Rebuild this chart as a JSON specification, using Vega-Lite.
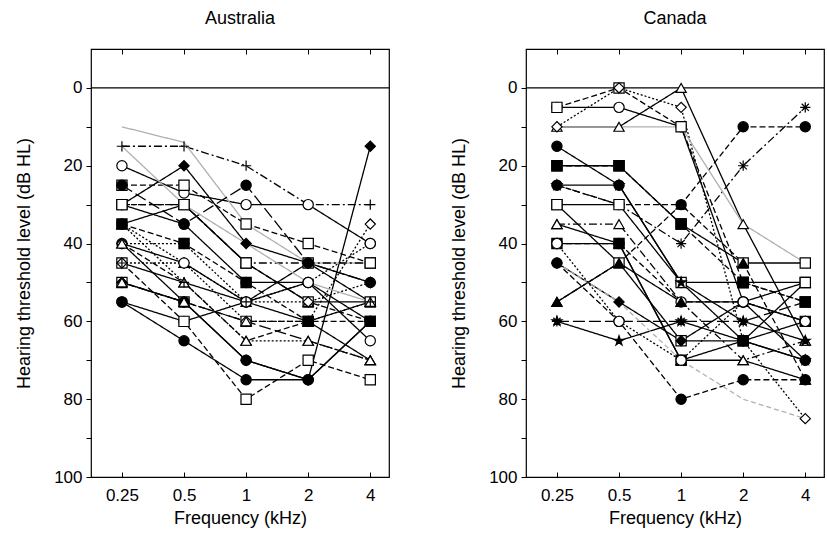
{
"$schema": "https://vega.github.io/schema/vega-lite/v6.json",
"background": "white",
"padding": {"left": 15, "top": 8, "right": 0, "bottom": 0},
"spacing": 137,
"bounds": "flush",
"config": {
 "font": "Liberation Sans",
 "view": {"stroke": "black", "strokeWidth": 1.2},
 "axis": {"labelFont": "Liberation Sans", "titleFont": "Liberation Sans", "labelFontSize": 17, "titleFontSize": 18, "titleFontWeight": "normal", "labelColor": "black", "titleColor": "black", "tickColor": "black", "domainColor": "black", "grid": false},
 "title": {"fontSize": 18, "fontWeight": "normal", "font": "Liberation Sans", "color": "black", "offset": 21}
},
"datasets": {
 "series": [
  {"s":"A1","c":"Australia","m":"plus","l":"dashdot"},
  {"s":"A2","c":"Australia","m":"circleO","l":"solid"},
  {"s":"A3","c":"Australia","m":"squareO","l":"dashed"},
  {"s":"A4","c":"Australia","m":"diamondF","l":"solid"},
  {"s":"A5","c":"Australia","m":"squareO","l":"dashed"},
  {"s":"A6","c":"Australia","m":"triangleO","l":"solid"},
  {"s":"A7","c":"Australia","m":"circleF","l":"solid"},
  {"s":"A8","c":"Australia","m":"triangleO","l":"solid"},
  {"s":"A9","c":"Australia","m":"triangleO","l":"dotted"},
  {"s":"A10","c":"Australia","m":"squareO","l":"dashed"},
  {"s":"A11","c":"Australia","m":"circleO","l":"solid"},
  {"s":"A12","c":"Australia","m":"circleF","l":"solid"},
  {"s":"A13","c":"Australia","m":"circleF","l":"solid"},
  {"s":"A14","c":"Australia","m":"squareO","l":"dashed"},
  {"s":"A15","c":"Australia","m":"diamondF","l":"solid"},
  {"s":"A16","c":"Australia","m":"diamondO","l":"dotted"},
  {"s":"A17","c":"Australia","m":"diamondO","l":"dotted"},
  {"s":"A18","c":"Australia","m":"none","l":"gray"},
  {"s":"A19","c":"Australia","m":"squareO","l":"dashdot"},
  {"s":"A20","c":"Australia","m":"circleO","l":"dotted"},
  {"s":"A21","c":"Australia","m":"triangleO","l":"dashed"},
  {"s":"A22","c":"Australia","m":"squareF","l":"dashed"},
  {"s":"A23","c":"Australia","m":"plus","l":"solid"},
  {"s":"A24","c":"Australia","m":"triangleO","l":"longdash"},
  {"s":"A25","c":"Australia","m":"circleF","l":"longdash"},
  {"s":"A26","c":"Australia","m":"none","l":"gray"},
  {"s":"C1","c":"Canada","m":"triangleO","l":"solid"},
  {"s":"C2","c":"Canada","m":"circleO","l":"solid"},
  {"s":"C3","c":"Canada","m":"squareO","l":"dashed"},
  {"s":"C4","c":"Canada","m":"diamondO","l":"dotted"},
  {"s":"C5","c":"Canada","m":"circleF","l":"solid"},
  {"s":"C6","c":"Canada","m":"circleF","l":"dashed"},
  {"s":"C7","c":"Canada","m":"circleF","l":"dashed"},
  {"s":"C8","c":"Canada","m":"asterisk","l":"dashdot"},
  {"s":"C9","c":"Canada","m":"squareO","l":"solid"},
  {"s":"C10","c":"Canada","m":"triangleO","l":"dashdot"},
  {"s":"C11","c":"Canada","m":"circleO","l":"dashed"},
  {"s":"C12","c":"Canada","m":"squareO","l":"solid"},
  {"s":"C13","c":"Canada","m":"starF","l":"solid"},
  {"s":"C14","c":"Canada","m":"asterisk","l":"longdash"},
  {"s":"C15","c":"Canada","m":"triangleF","l":"solid"},
  {"s":"C16","c":"Canada","m":"squareO","l":"solid"},
  {"s":"C17","c":"Canada","m":"triangleO","l":"solid"},
  {"s":"C18","c":"Canada","m":"squareF","l":"dashed"},
  {"s":"C19","c":"Canada","m":"squareF","l":"solid"},
  {"s":"C20","c":"Canada","m":"triangleF","l":"dashed"},
  {"s":"C21","c":"Canada","m":"diamondF","l":"solid"},
  {"s":"C22","c":"Canada","m":"none","l":"gray"},
  {"s":"C23","c":"Canada","m":"none","l":"graydash"},
  {"s":"C24","c":"Canada","m":"starF","l":"solid"},
  {"s":"C25","c":"Canada","m":"circleO","l":"dotted"}
 ],
 "pts": [
  {"s":"A1","f":0.25,"v":15},{"s":"A1","f":0.5,"v":15},{"s":"A1","f":1,"v":20},{"s":"A1","f":2,"v":30},{"s":"A1","f":4,"v":30},
  {"s":"A2","f":0.25,"v":20},{"s":"A2","f":0.5,"v":27},{"s":"A2","f":1,"v":30},{"s":"A2","f":2,"v":30},{"s":"A2","f":4,"v":40},
  {"s":"A3","f":0.25,"v":25},{"s":"A3","f":0.5,"v":25},{"s":"A3","f":1,"v":35},{"s":"A3","f":2,"v":40},{"s":"A3","f":4,"v":45},
  {"s":"A4","f":0.25,"v":30},{"s":"A4","f":0.5,"v":20},{"s":"A4","f":1,"v":40},{"s":"A4","f":2,"v":45},{"s":"A4","f":4,"v":50},
  {"s":"A5","f":0.25,"v":30},{"s":"A5","f":0.5,"v":30},{"s":"A5","f":1,"v":45},{"s":"A5","f":2,"v":55},{"s":"A5","f":4,"v":60},
  {"s":"A6","f":0.25,"v":35},{"s":"A6","f":0.5,"v":30},{"s":"A6","f":1,"v":45},{"s":"A6","f":2,"v":55},{"s":"A6","f":4,"v":55},
  {"s":"A7","f":0.25,"v":30},{"s":"A7","f":0.5,"v":35},{"s":"A7","f":1,"v":50},{"s":"A7","f":2,"v":50},{"s":"A7","f":4,"v":60},
  {"s":"A8","f":0.25,"v":40},{"s":"A8","f":0.5,"v":45},{"s":"A8","f":1,"v":55},{"s":"A8","f":2,"v":60},{"s":"A8","f":4,"v":70},
  {"s":"A9","f":0.25,"v":35},{"s":"A9","f":0.5,"v":50},{"s":"A9","f":1,"v":65},{"s":"A9","f":2,"v":65},{"s":"A9","f":4,"v":70},
  {"s":"A10","f":0.25,"v":50},{"s":"A10","f":0.5,"v":55},{"s":"A10","f":1,"v":60},{"s":"A10","f":2,"v":60},{"s":"A10","f":4,"v":55},
  {"s":"A11","f":0.25,"v":55},{"s":"A11","f":0.5,"v":60},{"s":"A11","f":1,"v":55},{"s":"A11","f":2,"v":50},{"s":"A11","f":4,"v":65},
  {"s":"A12","f":0.25,"v":40},{"s":"A12","f":0.5,"v":55},{"s":"A12","f":1,"v":70},{"s":"A12","f":2,"v":75},{"s":"A12","f":4,"v":60},
  {"s":"A13","f":0.25,"v":55},{"s":"A13","f":0.5,"v":65},{"s":"A13","f":1,"v":75},{"s":"A13","f":2,"v":75},{"s":"A13","f":4,"v":60},
  {"s":"A14","f":0.25,"v":45},{"s":"A14","f":0.5,"v":60},{"s":"A14","f":1,"v":80},{"s":"A14","f":2,"v":70},{"s":"A14","f":4,"v":75},
  {"s":"A15","f":0.25,"v":50},{"s":"A15","f":0.5,"v":55},{"s":"A15","f":1,"v":70},{"s":"A15","f":2,"v":75},{"s":"A15","f":4,"v":15},
  {"s":"A16","f":0.25,"v":40},{"s":"A16","f":0.5,"v":40},{"s":"A16","f":1,"v":55},{"s":"A16","f":2,"v":55},{"s":"A16","f":4,"v":50},
  {"s":"A17","f":0.25,"v":45},{"s":"A17","f":0.5,"v":45},{"s":"A17","f":1,"v":60},{"s":"A17","f":2,"v":60},{"s":"A17","f":4,"v":35},
  {"s":"A18","f":0.25,"v":10},{"s":"A18","f":0.5,"v":14},{"s":"A18","f":1,"v":35},{"s":"A18","f":2,"v":45},{"s":"A18","f":4,"v":45},
  {"s":"A19","f":0.25,"v":30},{"s":"A19","f":0.5,"v":30},{"s":"A19","f":1,"v":45},{"s":"A19","f":2,"v":45},{"s":"A19","f":4,"v":45},
  {"s":"A20","f":0.25,"v":35},{"s":"A20","f":0.5,"v":45},{"s":"A20","f":1,"v":55},{"s":"A20","f":2,"v":50},{"s":"A20","f":4,"v":40},
  {"s":"A21","f":0.25,"v":40},{"s":"A21","f":0.5,"v":50},{"s":"A21","f":1,"v":65},{"s":"A21","f":2,"v":60},{"s":"A21","f":4,"v":55},
  {"s":"A22","f":0.25,"v":35},{"s":"A22","f":0.5,"v":40},{"s":"A22","f":1,"v":50},{"s":"A22","f":2,"v":60},{"s":"A22","f":4,"v":60},
  {"s":"A23","f":0.25,"v":45},{"s":"A23","f":0.5,"v":50},{"s":"A23","f":1,"v":55},{"s":"A23","f":2,"v":45},{"s":"A23","f":4,"v":55},
  {"s":"A24","f":0.25,"v":50},{"s":"A24","f":0.5,"v":55},{"s":"A24","f":1,"v":60},{"s":"A24","f":2,"v":65},{"s":"A24","f":4,"v":70},
  {"s":"A25","f":0.25,"v":25},{"s":"A25","f":0.5,"v":35},{"s":"A25","f":1,"v":25},{"s":"A25","f":2,"v":45},{"s":"A25","f":4,"v":50},
  {"s":"A26","f":0.25,"v":15},{"s":"A26","f":0.5,"v":30},{"s":"A26","f":1,"v":40},{"s":"A26","f":2,"v":50},{"s":"A26","f":4,"v":55},
  {"s":"C1","f":0.25,"v":10},{"s":"C1","f":0.5,"v":10},{"s":"C1","f":1,"v":0},{"s":"C1","f":2,"v":35},{"s":"C1","f":4,"v":65},
  {"s":"C2","f":0.25,"v":5},{"s":"C2","f":0.5,"v":5},{"s":"C2","f":1,"v":10},{"s":"C2","f":2,"v":55},{"s":"C2","f":4,"v":60},
  {"s":"C3","f":0.25,"v":5},{"s":"C3","f":0.5,"v":0},{"s":"C3","f":1,"v":10},{"s":"C3","f":2,"v":50},{"s":"C3","f":4,"v":55},
  {"s":"C4","f":0.25,"v":10},{"s":"C4","f":0.5,"v":0},{"s":"C4","f":1,"v":5},{"s":"C4","f":2,"v":65},{"s":"C4","f":4,"v":85},
  {"s":"C5","f":0.25,"v":15},{"s":"C5","f":0.5,"v":25},{"s":"C5","f":1,"v":50},{"s":"C5","f":2,"v":65},{"s":"C5","f":4,"v":70},
  {"s":"C6","f":0.25,"v":45},{"s":"C6","f":0.5,"v":60},{"s":"C6","f":1,"v":80},{"s":"C6","f":2,"v":75},{"s":"C6","f":4,"v":75},
  {"s":"C7","f":0.25,"v":25},{"s":"C7","f":0.5,"v":30},{"s":"C7","f":1,"v":30},{"s":"C7","f":2,"v":10},{"s":"C7","f":4,"v":10},
  {"s":"C8","f":0.25,"v":25},{"s":"C8","f":0.5,"v":30},{"s":"C8","f":1,"v":40},{"s":"C8","f":2,"v":20},{"s":"C8","f":4,"v":5},
  {"s":"C9","f":0.25,"v":30},{"s":"C9","f":0.5,"v":30},{"s":"C9","f":1,"v":50},{"s":"C9","f":2,"v":50},{"s":"C9","f":4,"v":50},
  {"s":"C10","f":0.25,"v":35},{"s":"C10","f":0.5,"v":35},{"s":"C10","f":1,"v":55},{"s":"C10","f":2,"v":70},{"s":"C10","f":4,"v":65},
  {"s":"C11","f":0.25,"v":40},{"s":"C11","f":0.5,"v":40},{"s":"C11","f":1,"v":55},{"s":"C11","f":2,"v":55},{"s":"C11","f":4,"v":60},
  {"s":"C12","f":0.25,"v":20},{"s":"C12","f":0.5,"v":20},{"s":"C12","f":1,"v":35},{"s":"C12","f":2,"v":45},{"s":"C12","f":4,"v":45},
  {"s":"C13","f":0.25,"v":60},{"s":"C13","f":0.5,"v":65},{"s":"C13","f":1,"v":60},{"s":"C13","f":2,"v":65},{"s":"C13","f":4,"v":70},
  {"s":"C14","f":0.25,"v":60},{"s":"C14","f":0.5,"v":60},{"s":"C14","f":1,"v":60},{"s":"C14","f":2,"v":60},{"s":"C14","f":4,"v":55},
  {"s":"C15","f":0.25,"v":55},{"s":"C15","f":0.5,"v":45},{"s":"C15","f":1,"v":55},{"s":"C15","f":2,"v":55},{"s":"C15","f":4,"v":50},
  {"s":"C16","f":0.25,"v":30},{"s":"C16","f":0.5,"v":45},{"s":"C16","f":1,"v":65},{"s":"C16","f":2,"v":65},{"s":"C16","f":4,"v":50},
  {"s":"C17","f":0.25,"v":35},{"s":"C17","f":0.5,"v":40},{"s":"C17","f":1,"v":70},{"s":"C17","f":2,"v":70},{"s":"C17","f":4,"v":75},
  {"s":"C18","f":0.25,"v":20},{"s":"C18","f":0.5,"v":20},{"s":"C18","f":1,"v":35},{"s":"C18","f":2,"v":50},{"s":"C18","f":4,"v":55},
  {"s":"C19","f":0.25,"v":40},{"s":"C19","f":0.5,"v":40},{"s":"C19","f":1,"v":70},{"s":"C19","f":2,"v":65},{"s":"C19","f":4,"v":60},
  {"s":"C20","f":0.25,"v":55},{"s":"C20","f":0.5,"v":45},{"s":"C20","f":1,"v":30},{"s":"C20","f":2,"v":45},{"s":"C20","f":4,"v":75},
  {"s":"C21","f":0.25,"v":45},{"s":"C21","f":0.5,"v":55},{"s":"C21","f":1,"v":65},{"s":"C21","f":2,"v":55},{"s":"C21","f":4,"v":70},
  {"s":"C22","f":0.25,"v":10},{"s":"C22","f":0.5,"v":10},{"s":"C22","f":1,"v":10},{"s":"C22","f":2,"v":35},{"s":"C22","f":4,"v":45},
  {"s":"C23","f":0.25,"v":45},{"s":"C23","f":0.5,"v":55},{"s":"C23","f":1,"v":70},{"s":"C23","f":2,"v":80},{"s":"C23","f":4,"v":85},
  {"s":"C24","f":0.25,"v":25},{"s":"C24","f":0.5,"v":25},{"s":"C24","f":1,"v":50},{"s":"C24","f":2,"v":60},{"s":"C24","f":4,"v":65},
  {"s":"C25","f":0.25,"v":40},{"s":"C25","f":0.5,"v":60},{"s":"C25","f":1,"v":70},{"s":"C25","f":2,"v":55},{"s":"C25","f":4,"v":60}
 ]
},
"hconcat": [
 {
  "title": "Australia",
  "width": 298, "height": 428,
  "data": {"name": "pts"},
  "transform": [
   {"lookup": "s", "from": {"data": {"name": "series"}, "key": "s", "fields": ["c", "m", "l"]}},
   {"filter": "datum.c == 'Australia'"}
  ],
  "resolve": {"axis": {"x": "independent"}},
  "layer": [
   {"data": {"values": [{}]}, "mark": {"type": "rule", "color": "black", "strokeWidth": 1.2}, "encoding": {"y": {"datum": 0, "type": "quantitative", "scale": {"domain": [-10, 100], "reverse": true, "nice": false, "zero": false}}}},
   {"mark": {"type": "line", "strokeWidth": 1.3},
    "encoding": {
     "x": {"field": "f", "type": "quantitative", "scale": {"type": "log", "base": 2, "domain": [0.177, 4.93], "nice": false, "zero": false}, "axis": {"values": [0.25, 0.5, 1, 2, 4], "format": "~g", "tickSize": -5, "labelPadding": 15, "domain": false, "title": "Frequency (kHz)", "titlePadding": 6}},
     "y": {"field": "v", "type": "quantitative", "scale": {"domain": [-10, 100], "reverse": true, "nice": false, "zero": false}, "axis": {"values": [0,10,20,30,40,50,60,70,80,90,100], "labelExpr": "datum.value % 20 == 0 ? datum.label : ''", "tickSize": 5, "labelPadding": 4, "domain": false, "title": "Hearing threshold level (dB HL)", "titlePadding": 20}},
     "detail": {"field": "s"},
     "strokeDash": {"field": "l", "type": "nominal", "scale": {"domain": ["solid","dashed","dotted","dashdot","longdash","gray","graydash"], "range": [[1,0],[6,3],[2,2],[8,3,2,3],[12,4],[1,0],[5,3]]}, "legend": null},
     "color": {"field": "l", "type": "nominal", "scale": {"domain": ["solid","dashed","dotted","dashdot","longdash","gray","graydash"], "range": ["black","black","black","black","black","#b0b0b0","#b0b0b0"]}, "legend": null}
    }},
   {"transform": [{"filter": "datum.m != 'none'"}],
    "mark": {"type": "point", "filled": true, "stroke": "black", "strokeWidth": 1.2, "size": 105, "opacity": 1},
    "encoding": {
     "x": {"field": "f", "type": "quantitative", "scale": {"type": "log", "base": 2, "domain": [0.177, 4.93], "nice": false, "zero": false}, "axis": {"orient": "top", "values": [0.25, 0.5, 1, 2, 4], "labels": false, "tickSize": -5, "domain": false, "title": null}},
     "y": {"field": "v", "type": "quantitative"},
     "shape": {"field": "m", "type": "nominal", "scale": {"domain": ["circleO","circleF","squareO","squareF","triangleO","triangleF","diamondO","diamondF","plus","asterisk","starF"], "range": ["circle","circle","square","square","triangle-up","triangle-up","diamond","diamond","M-1,0L1,0M0,-1L0,1","M-1,0L1,0M0,-1L0,1M-0.7,-0.7L0.7,0.7M-0.7,0.7L0.7,-0.7","M0,-1L0.22,-0.31L0.95,-0.31L0.36,0.12L0.59,0.81L0,0.38L-0.59,0.81L-0.36,0.12L-0.95,-0.31L-0.22,-0.31Z"]}, "legend": null},
     "fill": {"field": "m", "type": "nominal", "scale": {"domain": ["circleO","circleF","squareO","squareF","triangleO","triangleF","diamondO","diamondF","plus","asterisk","starF"], "range": ["white","black","white","black","white","black","white","black","black","black","black"]}, "legend": null}
    }}
  ]
 },
 {
  "title": "Canada",
  "width": 298, "height": 428,
  "data": {"name": "pts"},
  "transform": [
   {"lookup": "s", "from": {"data": {"name": "series"}, "key": "s", "fields": ["c", "m", "l"]}},
   {"filter": "datum.c == 'Canada'"}
  ],
  "resolve": {"axis": {"x": "independent"}},
  "layer": [
   {"data": {"values": [{}]}, "mark": {"type": "rule", "color": "black", "strokeWidth": 1.2}, "encoding": {"y": {"datum": 0, "type": "quantitative", "scale": {"domain": [-10, 100], "reverse": true, "nice": false, "zero": false}}}},
   {"mark": {"type": "line", "strokeWidth": 1.3},
    "encoding": {
     "x": {"field": "f", "type": "quantitative", "scale": {"type": "log", "base": 2, "domain": [0.177, 4.93], "nice": false, "zero": false}, "axis": {"values": [0.25, 0.5, 1, 2, 4], "format": "~g", "tickSize": -5, "labelPadding": 15, "domain": false, "title": "Frequency (kHz)", "titlePadding": 6}},
     "y": {"field": "v", "type": "quantitative", "scale": {"domain": [-10, 100], "reverse": true, "nice": false, "zero": false}, "axis": {"values": [0,10,20,30,40,50,60,70,80,90,100], "labelExpr": "datum.value % 20 == 0 ? datum.label : ''", "tickSize": 5, "labelPadding": 4, "domain": false, "title": "Hearing threshold level (dB HL)", "titlePadding": 20}},
     "detail": {"field": "s"},
     "strokeDash": {"field": "l", "type": "nominal", "scale": {"domain": ["solid","dashed","dotted","dashdot","longdash","gray","graydash"], "range": [[1,0],[6,3],[2,2],[8,3,2,3],[12,4],[1,0],[5,3]]}, "legend": null},
     "color": {"field": "l", "type": "nominal", "scale": {"domain": ["solid","dashed","dotted","dashdot","longdash","gray","graydash"], "range": ["black","black","black","black","black","#b0b0b0","#b0b0b0"]}, "legend": null}
    }},
   {"transform": [{"filter": "datum.m != 'none'"}],
    "mark": {"type": "point", "filled": true, "stroke": "black", "strokeWidth": 1.2, "size": 105, "opacity": 1},
    "encoding": {
     "x": {"field": "f", "type": "quantitative", "scale": {"type": "log", "base": 2, "domain": [0.177, 4.93], "nice": false, "zero": false}, "axis": {"orient": "top", "values": [0.25, 0.5, 1, 2, 4], "labels": false, "tickSize": -5, "domain": false, "title": null}},
     "y": {"field": "v", "type": "quantitative"},
     "shape": {"field": "m", "type": "nominal", "scale": {"domain": ["circleO","circleF","squareO","squareF","triangleO","triangleF","diamondO","diamondF","plus","asterisk","starF"], "range": ["circle","circle","square","square","triangle-up","triangle-up","diamond","diamond","M-1,0L1,0M0,-1L0,1","M-1,0L1,0M0,-1L0,1M-0.7,-0.7L0.7,0.7M-0.7,0.7L0.7,-0.7","M0,-1L0.22,-0.31L0.95,-0.31L0.36,0.12L0.59,0.81L0,0.38L-0.59,0.81L-0.36,0.12L-0.95,-0.31L-0.22,-0.31Z"]}, "legend": null},
     "fill": {"field": "m", "type": "nominal", "scale": {"domain": ["circleO","circleF","squareO","squareF","triangleO","triangleF","diamondO","diamondF","plus","asterisk","starF"], "range": ["white","black","white","black","white","black","white","black","black","black","black"]}, "legend": null}
    }}
  ]
 }
]
}
